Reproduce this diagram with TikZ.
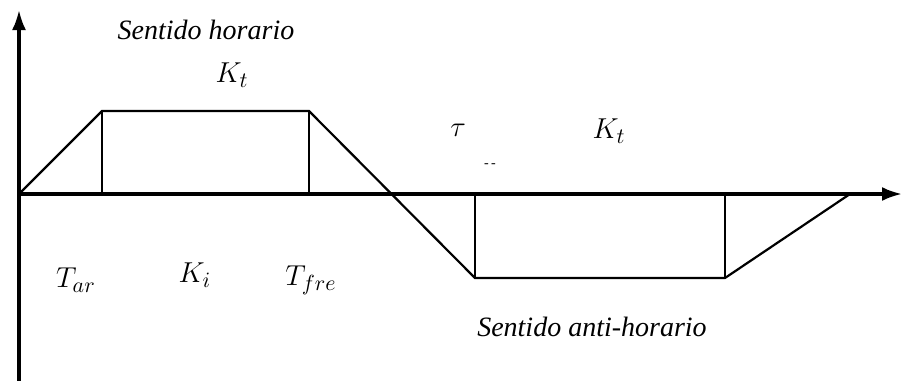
\documentclass[tikz,border=0pt]{standalone}
\usepackage{amsmath,amssymb}
\usepackage{fontspec}
\setmainfont{Liberation Serif}
\usepackage{tikz}
\usetikzlibrary{arrows.meta, positioning, calc}

\begin{document}
\begin{tikzpicture}[
    x=0.5pt, y=-0.5pt,
    axis/.style={line width=1.6pt, -{Latex[length=10pt, width=7pt]}},
    curve/.style={line width=1.1pt, line join=miter},
    guide/.style={line width=1.1pt},
    lbl/.style={inner sep=0pt, font=\fontsize{14}{16}\selectfont\itshape},
    sym/.style={inner sep=0pt, font=\fontsize{15.5}{18}\selectfont}
]
    \useasboundingbox (0,0) rectangle (902,381);

    % axes
    \coordinate (origin) at (19,194);
    \coordinate (ytop)   at (19,10);
    \coordinate (ybot)   at (19,381);
    \coordinate (xend)   at (902,194);
    \draw[axis] (ybot) -- (ytop);
    \draw[axis] (origin) -- (xend);

    % profile
    \coordinate (upA)   at (102,111);
    \coordinate (upB)   at (309,111);
    \coordinate (downA) at (475,278);
    \coordinate (downB) at (725,278);
    \coordinate (stop)  at (850,194);
    \draw[curve] (origin) -- (upA) -- (upB) -- (downA) -- (downB) -- (stop);

    % vertical guides
    \draw[guide] (upA)   -- (upA |- origin);
    \draw[guide] (upB)   -- (upB |- origin);
    \draw[guide] (downA) -- (downA |- origin);
    \draw[guide] (downB) -- (downB |- origin);

    % labels
    \node[lbl] (cw)   at (206,30)  {Sentido horario};
    \node[sym] (kt1)  at (232,75)  {$K_t$};
    \node[sym] (tau)  at (458,130) {$\tau$};
    \node[sym, font=\scriptsize] (tick) at (490,166) {-\,-};
    \node[sym] (kt2)  at (609,131) {$K_t$};
    \node[sym] (tar)  at (76,280)  {$T_{ar}$};
    \node[sym] (ki)   at (195,275) {$K_i$};
    \node[sym] (tfre) at (311,280) {$T_{fre}$};
    \node[lbl] (ccw)  at (592,327) {Sentido anti-horario};
\end{tikzpicture}
\end{document}
